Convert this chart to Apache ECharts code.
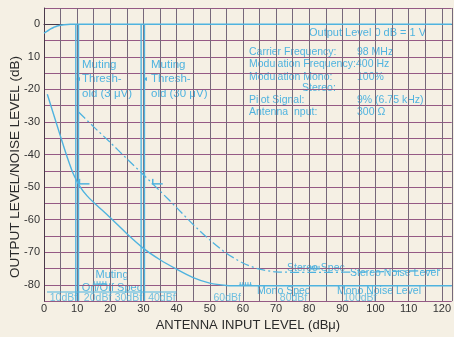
<!DOCTYPE html>
<html>
<head>
<meta charset="utf-8">
<script src="https://cdn.jsdelivr.net/npm/echarts@6/dist/echarts.min.js"></script>
<style>
  html, body { margin: 0; padding: 0; background: #f5f0e4; }
  #chart { width: 454px; height: 337px; }
</style>
</head>
<body>
<div id="chart"></div>
<script>
// curves, [dBu, dB]
const outputLevel = [[0, -2.7], [1, -2.1], [2, -1.4], [3, -0.9], [4, -0.5], [6, -0.15], [8, 0], [123, 0]];
const monoNoise = [
  [1, -21.5], [3, -28], [5, -34.5], [7, -40.8], [9, -46.3], [11, -50.1],
  [13, -52.7], [15, -54.7], [20, -59.4], [25, -64.3], [30, -68.8], [35, -72.3],
  [40, -75.2], [45, -77.8], [50, -79.5], [55, -80.2], [60, -80.3], [123, -80.3]
];
const stereoNoise = [
  [10.5, -27], [15, -31.5], [20, -36.3], [25, -41.3], [30, -46.2], [35, -51.2], [40, -56.3],
  [45, -61.5], [50, -66.2], [55, -70.3], [60, -73.3], [65, -75.2], [70, -76], [80, -76.2],
  [100, -76], [120, -75.5]
];
const mutingLines = [9.6, 10.4, 29.3, 30.3];
const dbfLabels = ['10dBf', '20dBf', '30dBf', '40dBf', '60dBf', '80dBf', '100dBf'];
const dbfAt = [10, 20.3, 29.6, 39.7, 59.4, 79.4, 100.3];
const dbfBar = [[0.9, -82.2], [40, -82.2]];
const snFlags = [[10.4, -49], [32.5, -49]];
const specMarks = [[14.7, 19.1, -79.8], [58.8, 62.7, -80.1], [80, 83.3, -75.1]];

const cyan = '#4fb3df';
const font = "'Liberation Sans', Arial, sans-serif";

const chart = echarts.init(document.getElementById('chart'));

const mutingSeries = mutingLines.map(x => ({
  type: 'line', silent: true, symbol: 'none',
  lineStyle: { color: cyan, width: 1.4 },
  data: [[x, 0], [x, -85]]
}));

const txt = (text, x, y, size, extra) => ({
  type: 'text', x: x, y: y, silent: true,
  style: Object.assign({ text: text, fill: cyan, font: size + 'px ' + font, verticalAlign: 'middle' }, extra || {})
});

const notes = [
  txt('Output Level 0 dB = 1 V', 309, 33, 11),
  txt('Carrier Frequency:', 249, 52, 10.5), txt('98 MHz', 357, 52, 10.5),
  txt('Modulation Frequency:', 249, 64, 10.5), txt('400 Hz', 356, 64, 10.5),
  txt('Modulation Mono:', 249, 77, 10.5), txt('100%', 357, 77, 10.5),
  txt('Stereo:', 302, 88, 10.5),
  txt('Pilot Signal:', 249, 100, 10.5), txt('9% (6.75 kHz)', 357, 100, 10.5),
  txt('Antenna Input:', 249, 112, 10.5), txt('300 Ω', 357, 112, 10.5),
  txt('Muting\nThresh-\nold (3 μV)', 82, 79, 11.5, { lineHeight: 14.5 }),
  txt('Muting\nThresh-\nold (30 μV)', 151, 79, 11.5, { lineHeight: 14.5 }),
  txt('◂', 76, 79, 8), txt('◂', 143, 79, 8),
  txt('Muting\nOn/Off Spec', 112, 281, 11, { align: 'center', lineHeight: 13 }),
  txt('Stereo Spec', 287, 268, 10.5),
  txt('Stereo Noise Level', 350, 273, 10.5),
  txt('Mono Spec', 257, 291, 10.5),
  txt('Mono Noise Level', 337, 291, 10.5),
  {
    type: 'text', x: 15, y: 167, rotation: Math.PI / 2, silent: true,
    style: { text: 'OUTPUT LEVEL/NOISE LEVEL (dB)', fill: '#2a2a2a', font: '13.5px ' + font, align: 'center', verticalAlign: 'middle' }
  }
];

const option = {
  backgroundColor: '#f5f0e4',
  animation: false,
  textStyle: { fontFamily: font },
  grid: { left: 44, right: 1, top: 8, bottom: 23 },
  xAxis: {
    type: 'value', min: 0, max: 123, interval: 5,
    name: 'ANTENNA INPUT LEVEL (dBμ)', nameLocation: 'middle', nameGap: 11,
    nameTextStyle: { color: '#2a2a2a', fontSize: 13 },
    axisLine: { lineStyle: { color: '#4a3a4a', width: 1 } },
    axisTick: { show: false },
    axisLabel: {
      color: '#333', fontSize: 11, margin: 2, showMaxLabel: false,
      formatter: v => (v % 10 === 0 ? String(v) : '')
    },
    splitLine: { show: true, lineStyle: { color: '#76687a', width: 1 } }
  },
  yAxis: {
    type: 'value', min: -85, max: 5, interval: 5,
    axisLine: { show: true, lineStyle: { color: '#4a3a4a', width: 1 } },
    axisTick: { show: false },
    axisLabel: {
      color: '#333', fontSize: 11, margin: 4,
      formatter: v => (v % 10 !== 0 || v > 0 ? '' : v === -10 ? '10' : String(v))
    },
    splitLine: { show: true, lineStyle: { color: '#955a84', width: 1 } }
  },
  graphic: notes,
  series: [
    ...mutingSeries,
    { type: 'line', name: 'Output Level', symbol: 'none', smooth: 0.25, data: outputLevel, lineStyle: { color: cyan, width: 1.5 } },
    { type: 'line', name: 'Mono Noise Level', symbol: 'none', smooth: 0.25, data: monoNoise, lineStyle: { color: cyan, width: 1.4 } },
    { type: 'line', name: 'Stereo Noise Level', symbol: 'none', smooth: 0.25, data: stereoNoise, lineStyle: { color: cyan, width: 1.3, type: [9, 3, 2, 3] } },
    { type: 'line', symbol: 'none', data: dbfBar, lineStyle: { color: cyan, width: 1.2 } },
    {
      type: 'scatter', symbolSize: 0, silent: true,
      data: dbfAt.map((x, i) => ({ value: [x, -84], name: dbfLabels[i] })),
      label: { show: true, position: 'left', distance: 0, formatter: p => p.name, color: cyan, fontSize: 10.5 }
    },
    {
      type: 'custom', silent: true, data: snFlags,
      renderItem: (params, api) => {
        const p = api.coord([api.value(0), api.value(1)]);
        return {
          type: 'group', children: [
            { type: 'line', shape: { x1: p[0], y1: p[1], x2: p[0] + 11, y2: p[1] }, style: { stroke: cyan, lineWidth: 1.5 } },
            { type: 'line', shape: { x1: p[0] + 1, y1: p[1] - 5, x2: p[0] + 1, y2: p[1] }, style: { stroke: cyan, lineWidth: 1.5 } }
          ]
        };
      }
    },
    {
      type: 'custom', silent: true, data: specMarks,
      renderItem: (params, api) => {
        const a = api.coord([api.value(0), api.value(2)]);
        const b = api.coord([api.value(1), api.value(2)]);
        const kids = [{ type: 'line', shape: { x1: a[0], y1: a[1], x2: b[0], y2: b[1] }, style: { stroke: cyan, lineWidth: 1.2 } }];
        for (let k = 0; k < 5; k++) {
          const x = a[0] + (b[0] - a[0]) * (k + 0.5) / 5;
          kids.push({ type: 'line', shape: { x1: x, y1: a[1] - 3, x2: x, y2: a[1] }, style: { stroke: cyan, lineWidth: 1 } });
        }
        return { type: 'group', children: kids };
      }
    }
  ]
};
chart.setOption(option);
</script>
</body>
</html>
